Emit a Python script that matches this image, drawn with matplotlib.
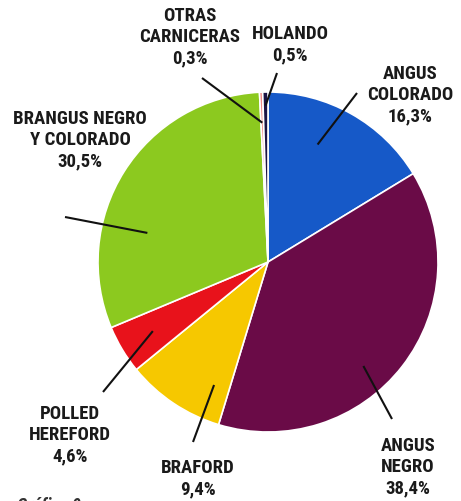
import numpy as np
import matplotlib
matplotlib.use("Agg")
from matplotlib import pyplot as plt
from matplotlib import font_manager

# data: share of breeds (%)
razas = ["ANGUS\nCOLORADO", "ANGUS\nNEGRO", "BRAFORD", "POLLED\nHEREFORD",
         "BRANGUS NEGRO\nY COLORADO", "OTRAS\nCARNICERAS", "HOLANDO"]
porcentajes = [16.3, 38.4, 9.4, 4.6, 30.5, 0.3, 0.5]
etiquetas_pct = ["16,3%", "38,4%", "9,4%", "4,6%", "30,5%", "0,3%", "0,5%"]
colores = ["#1659c8", "#6a0b47", "#f6c800", "#e8121b", "#8cc91f", "#ef8a86", "#1b1444"]

W, H = 461, 501


def yy(y):
    # image row -> axes coordinate
    return H - y


names = {f.name for f in font_manager.fontManager.ttflist}
fam = [f for f in ["Liberation Sans Narrow", "Roboto Condensed", "Roboto"] if f in names][:1] + ["DejaVu Sans"]

fig = plt.figure(figsize=(W / 100, H / 100), dpi=100)
ax = fig.add_axes([0, 0, 1, 1])

cx, cy, r = 268, yy(262), 170
wedges, _ = ax.pie(porcentajes, colors=colores, startangle=90, counterclock=False,
                   center=(cx, cy), radius=r, frame=True,
                   wedgeprops=dict(edgecolor="white", linewidth=1.2))
ax.set_xlim(0, W)
ax.set_ylim(0, H)
ax.set_aspect("equal")
ax.axis("off")

# label centre (x, y), leader outer end, position inside wedge (t along, radius frac)
layout = [
    ((410, 95), (357, 93), 0.39, 0.75),
    ((408, 467), (392, 419), 0.57, 0.83),
    ((198, 479), (193, 442), 0.2, 0.79),
    ((70, 435), (103, 392), 0.5, 0.79),
    ((80, 140), (65, 217), 0.33, 0.73),
    ((190, 37), (202, 78), 0.5, 0.82),
    ((290, 45), (277, 73), 0.5, 0.92),
]

for w, nombre, pct, (lab, outer, t, frac) in zip(wedges, razas, etiquetas_pct, layout):
    ang = np.deg2rad(w.theta2 - t * (w.theta2 - w.theta1))
    ix = cx + r * frac * np.cos(ang)
    iy = cy + r * frac * np.sin(ang)
    ax.plot([outer[0], ix], [yy(outer[1]), iy], color="#111111", lw=1.5,
            solid_capstyle="butt")
    ax.text(lab[0], yy(lab[1]), nombre + "\n" + pct, ha="center", va="center",
            fontsize=13.5, fontweight="bold", family=fam, color="#1a1a1a",
            linespacing=1.22, ma="center")

ax.text(17, yy(497), "Gráfico 9", ha="left", va="top", fontsize=13,
        fontweight="bold", fontstyle="italic", family=fam, color="#333333")

plt.savefig("out.png", dpi=100)
plt.close()
